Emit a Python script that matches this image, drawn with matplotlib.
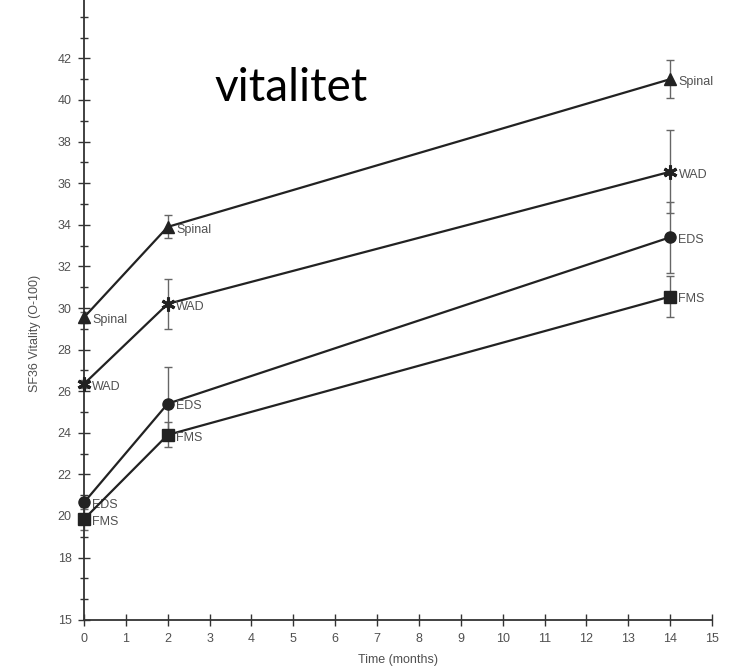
import numpy as np
import matplotlib.pyplot as plt
from matplotlib.ticker import FixedLocator, MultipleLocator

# SF36 vitality by group at 0, 2 and 14 months
months = [0, 2, 14]
groups = ["Spinal", "WAD", "EDS", "FMS"]
markers = {"Spinal": "^", "WAD": (6, 2, 0), "EDS": "o", "FMS": "s"}

spinal = [29.55, 33.9, 41.0]
wad = [26.35, 30.2, 36.55]
eds = [20.65, 25.4, 33.4]
fms = [19.85, 23.9, 30.55]

spinal_err = [0.25, 0.55, 0.9]
wad_err = [0.2, 1.2, 2.0]
eds_err = [0.2, 1.75, 1.7]
fms_err = [0.5, 0.6, 1.0]

values = {"Spinal": spinal, "WAD": wad, "EDS": eds, "FMS": fms}
errors = {"Spinal": spinal_err, "WAD": wad_err, "EDS": eds_err, "FMS": fms_err}

y_ticks = [15, 18, 20, 22, 24, 26, 28, 30, 32, 34, 36, 38, 40, 42, 45]
x_ticks = list(range(0, 16))

ink = "#222222"
grey = "#505050"
font = "Liberation Sans"

fig = plt.figure(figsize=(7.44, 6.70), dpi=100)
ax = fig.add_axes([84 / 744, 50 / 670, (712 - 84) / 744, 624 / 670])

for g in groups:
    # error bars first, then the line with its marker on top
    ax.errorbar(months, values[g], yerr=errors[g], fmt="none",
                ecolor="#666666", elinewidth=1.0, capsize=3, capthick=1.0,
                clip_on=False, zorder=2)
    ax.plot(months, values[g], color=ink, lw=1.6, marker=markers[g],
            markersize=8 if g != "WAD" else 10,
            markeredgewidth=1.0 if g != "WAD" else 2.2,
            markerfacecolor=ink, markeredgecolor=ink, clip_on=False, zorder=3)
    for x, y in zip(months, values[g]):
        ax.annotate(g, (x, y), xytext=(6, -2), textcoords="offset points",
                    fontsize=9, color=grey, va="center", ha="left", family=font)

ax.set_xlim(0, 15)
ax.set_ylim(15, 45)
ax.xaxis.set_major_locator(FixedLocator(x_ticks))
ax.yaxis.set_major_locator(FixedLocator(y_ticks))
ax.yaxis.set_minor_locator(MultipleLocator(1))

for side in ["top", "right"]:
    ax.spines[side].set_visible(False)
for side in ["left", "bottom"]:
    ax.spines[side].set_color("#333333")
    ax.spines[side].set_linewidth(1.3)

ax.tick_params(axis="both", which="major", direction="inout", length=8,
               width=1.0, colors="#333333", labelcolor=grey, labelsize=9,
               pad=5)
ax.tick_params(axis="y", which="minor", direction="inout", length=6,
               width=1.0, colors="#333333")
for lbl in ax.get_xticklabels() + ax.get_yticklabels():
    lbl.set_family(font)

ax.set_xlabel("Time (months)", fontsize=9, color=grey, family=font)
ax.xaxis.set_label_coords(0.5, -0.055)
ax.set_ylabel("SF36 Vitality (O-100)", fontsize=9, color=grey, family=font)
ax.yaxis.set_label_coords(-0.068, 0.46)

fig.text(291 / 744, 1 - 88 / 670, "vitalitet", fontsize=33, color="black",
         ha="center", va="center", family="Lato")

fig.savefig("out.png", dpi=100)
